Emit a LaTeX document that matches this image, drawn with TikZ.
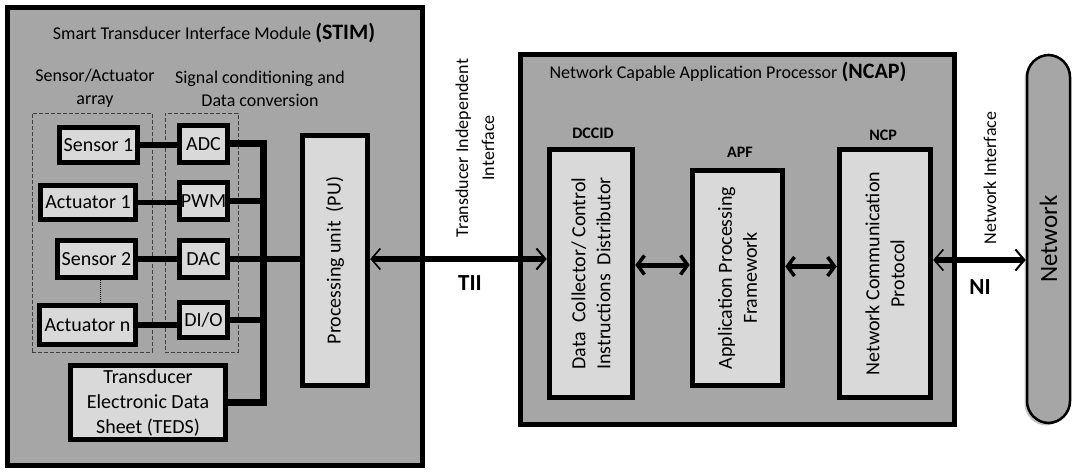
\documentclass[tikz,border=0pt]{standalone}
\usepackage{fontspec}
\setmainfont{Carlito}
\usetikzlibrary{arrows.meta,positioning,shadows}
\definecolor{modgray}{RGB}{166,166,166}
\definecolor{boxgray}{RGB}{217,217,217}

\begin{document}
\begin{tikzpicture}[x=1pt,y=-1pt,
  module/.style={draw, line width=5pt, fill=modgray, inner sep=0pt},
  unit/.style={draw, line width=5.5pt, fill=boxgray, inner sep=0pt, align=center, font=\fontsize{20}{25}\selectfont},
  group/.style={draw=black!75, line width=0.9pt, dash pattern=on 4pt off 2pt, inner sep=0pt},
  caption/.style={align=center, font=\fontsize{18}{23}\selectfont},
  tag/.style={font=\bfseries\fontsize{16}{19}\selectfont},
  wire/.style={line width=5.5pt},
  link/.style={line width=5pt, {Straight Barb[length=7pt,width=19pt,line width=3.5pt 0]}-{Straight Barb[length=7pt,width=19pt,line width=3.5pt 0]}},
  iface/.style={line width=6pt, {Straight Barb[length=9pt,width=21pt,line width=1.6pt 0]}-{Straight Barb[length=9pt,width=21pt,line width=2pt 0]}}]
\useasboundingbox (0,0) rectangle (1078,473);

\node[module, minimum width=415pt, minimum height=458pt] (stim) at (215,236.5) {};
\node[caption] (stimtitle) at (214,33) {Smart Transducer Interface Module {\bfseries\fontsize{22}{26}\selectfont(STIM)}};
\node[caption] (sacap) at (95,88) {Sensor/Actuator\\array};
\node[caption] (sccap) at (260,89) {Signal conditioning and\\Data conversion};
\node[group, minimum width=120pt, minimum height=239pt] (sa) at (92,232.5) {};
\node[group, minimum width=73pt, minimum height=239pt] (sc) at (201.5,232.5) {};

\node[unit, minimum width=78pt, minimum height=35pt] (sen1) at (98.5,145) {Sensor 1};
\node[unit, minimum width=95pt, minimum height=34pt] (act1) at (88,202.5) {Actuator 1};
\node[unit, minimum width=78pt, minimum height=37pt] (sen2) at (96.5,259) {Sensor 2};
\node[unit, minimum width=96pt, minimum height=39pt] (actn) at (87.5,325) {Actuator n};
\node[unit, minimum width=48pt, minimum height=37pt] (adc) at (203.5,144) {ADC};
\node[unit, minimum width=48pt, minimum height=37pt] (pwm) at (203.5,201) {PWM};
\node[unit, minimum width=48pt, minimum height=37pt] (dac) at (203.5,259) {DAC};
\node[unit, minimum width=48pt, minimum height=35pt] (dio) at (203.5,320) {DI/O};
\node[unit, minimum width=155pt, minimum height=74pt] (teds) at (148,402.5) {Transducer\\Electronic Data\\Sheet (TEDS)};
\node[unit, rotate=90, minimum width=250pt, minimum height=65pt] (pu) at (335,260.5) {Processing unit\ \ (PU)};
\coordinate (bus) at (263,144);

\draw[wire] (sen1.east) -- (sen1.east -| adc.west);
\draw[wire] (act1.east) -- (act1.east -| pwm.west);
\draw[wire] (sen2.east) -- (sen2.east -| dac.west);
\draw[wire] (actn.east) -- (actn.east -| dio.west);
\draw[densely dotted, line width=1pt] ([xshift=3.5pt]sen2.south) -- ([xshift=3.5pt]sen2.south |- actn.north);
\draw[line width=7pt] (adc.east) -- (adc.east -| bus) -- (teds.east -| bus) -- (teds.east);
\draw[wire] (pwm.east) -- (pwm.east -| bus);
\draw[wire] (dio.east) -- (dio.east -| bus);
\draw[wire] (dac.east) -- (dac.east -| pu.north);

\node[module, minimum width=434pt, minimum height=370pt] (ncap) at (737.5,239.5) {};
\node[caption] (ncaptitle) at (728,72) {Network Capable Application Processor {\bfseries\fontsize{22}{26}\selectfont(NCAP)}};
\node[unit, rotate=90, minimum width=248pt, minimum height=83pt] (dccid) at (591,273.5) {Data\ \ Collector/ Control\\Instructions\ \ Distributor};
\node[unit, rotate=90, minimum width=215pt, minimum height=90pt] (apf) at (737.5,278) {Application Processing\\Framework};
\node[unit, rotate=90, minimum width=248pt, minimum height=91pt] (ncp) at (885,273.5) {Network Communication\\Protocol};
\node[tag] (dccidtag) at (593,133) {DCCID};
\node[tag] (apftag) at (740,152) {APF};
\node[tag] (ncptag) at (883,135) {NCP};

\node[draw, line width=2.5pt, fill=modgray, rounded corners=22pt, rotate=90, minimum width=368pt, minimum height=43pt,
  drop shadow={shadow xshift=-2.5pt, shadow yshift=-2.5pt, fill=black!45}, font=\fontsize{25}{30}\selectfont] (net) at (1048.5,239) {Network};

\draw[iface] (dac.east -| pu.south) -- (dac.east -| dccid.north);
\draw[link] ([yshift=8.5pt]dccid.south) -- ([yshift=8.5pt]dccid.south -| apf.north);
\draw[link] ([yshift=11.5pt]apf.south) -- ([yshift=11.5pt]apf.south -| ncp.north);
\draw[iface] ([yshift=13.5pt]ncp.south) -- ([yshift=13.5pt]ncp.south -| net.north);

\node[caption, rotate=90, font=\fontsize{18}{26}\selectfont] (tiitext) at (475,148) {Transducer Independent\\Interface};
\node[font=\bfseries\fontsize{23}{27}\selectfont] (tii) at (470,283) {TII};
\node[caption, rotate=90] (nitext) at (990,178) {Network Interface};
\node[font=\bfseries\fontsize{23}{27}\selectfont] (ni) at (980,287) {NI};
\end{tikzpicture}
\end{document}
